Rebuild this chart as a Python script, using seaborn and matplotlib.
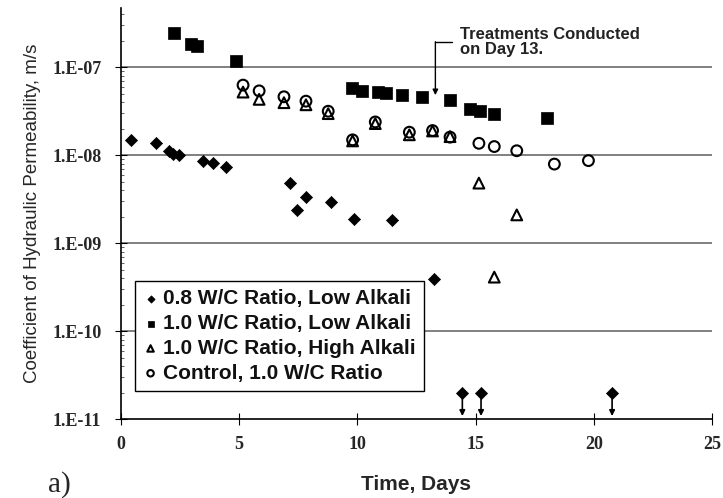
import numpy as np
import pandas as pd
import matplotlib
matplotlib.use("Agg")
import matplotlib.pyplot as plt
import seaborn as sns

# ---- data ----
d08_days = [0.45, 1.48, 2.04, 2.21, 2.45, 3.48, 3.88, 4.47, 7.15, 7.47, 7.85, 8.87, 9.87, 11.45, 13.24]
d08_k = [1.50e-8, 1.36e-8, 1.10e-8, 1.03e-8, 0.99e-8, 8.65e-9, 8.1e-9, 7.26e-9, 4.78e-9, 2.37e-9,
         3.37e-9, 2.93e-9, 1.87e-9, 1.84e-9, 3.86e-10]
d08_cens_days = [14.44, 15.23, 20.77]
d08_cens_k = [2.0e-11, 2.0e-11, 2.0e-11]

sq_days = [2.24, 2.99, 3.23, 4.86, 9.79, 10.21, 10.86, 11.2, 11.87, 12.75, 13.92, 14.76, 15.19, 15.79, 18.0]
sq_k = [2.46e-7, 1.82e-7, 1.73e-7, 1.18e-7, 5.81e-8, 5.42e-8, 5.24e-8, 5.06e-8, 4.84e-8, 4.59e-8,
        4.28e-8, 3.38e-8, 3.17e-8, 2.91e-8, 2.64e-8]

tri_days = [5.17, 5.85, 6.9, 7.83, 8.77, 9.8, 10.76, 12.2, 13.18, 13.92, 15.14, 15.79, 16.74]
tri_k = [5.2e-8, 4.3e-8, 3.94e-8, 3.73e-8, 2.96e-8, 1.45e-8, 2.28e-8, 1.70e-8, 1.88e-8, 1.62e-8,
         4.8e-9, 4.1e-10, 2.09e-9]

ctl_days = [5.17, 5.85, 6.9, 7.83, 8.77, 9.8, 10.76, 12.2, 13.18, 13.92, 15.14, 15.79, 16.74, 18.33, 19.77]
ctl_k = [6.24e-8, 5.37e-8, 4.6e-8, 4.1e-8, 3.15e-8, 1.49e-8, 2.38e-8, 1.82e-8, 1.9e-8, 1.6e-8,
         1.36e-8, 1.25e-8, 1.12e-8, 7.9e-9, 8.65e-9]

labels = ["0.8 W/C Ratio, Low Alkali", "1.0 W/C Ratio, Low Alkali",
          "1.0 W/C Ratio, High Alkali", "Control, 1.0 W/C Ratio"]
y_ticks = [1e-11, 1e-10, 1e-9, 1e-8, 1e-7]
y_ticklabels = ["1.E-11", "1.E-10", "1.E-09", "1.E-08", "1.E-07"]
x_ticks = [0, 5, 10, 15, 20, 25]

sns.set_theme(style="white")
plt.rcParams['font.family'] = ['Liberation Sans', 'DejaVu Sans']

fig = plt.figure(figsize=(7.23, 4.98), dpi=100)
ax = fig.add_axes([0.167, 0.1586, 0.818, 0.8254])

df08 = pd.DataFrame({"day": d08_days, "k": d08_k})
dfc = pd.DataFrame({"day": d08_cens_days, "k": d08_cens_k})
dfs = pd.DataFrame({"day": sq_days, "k": sq_k})
dft = pd.DataFrame({"day": tri_days, "k": tri_k})
dfo = pd.DataFrame({"day": ctl_days, "k": ctl_k})

ax.set_yscale("log")
for yv in y_ticks[1:]:
    ax.axhline(yv, color="#808080", lw=1.4, zorder=0)

sns.scatterplot(data=df08, x="day", y="k", marker="D", s=38, color="black",
                edgecolor="black", linewidth=0.5, ax=ax, label=labels[0], zorder=3)
sns.scatterplot(data=dfc, x="day", y="k", marker="D", s=38, color="black",
                edgecolor="black", linewidth=0.5, ax=ax, legend=False, zorder=3)
sns.scatterplot(data=dfs, x="day", y="k", marker="s", s=70, color="black",
                edgecolor="black", linewidth=0.5, ax=ax, label=labels[1], zorder=3)
sns.scatterplot(data=dft, x="day", y="k", marker="^", s=60, facecolor="none",
                edgecolor="black", linewidth=1.5, ax=ax, label=labels[2], zorder=4)
sns.scatterplot(data=dfo, x="day", y="k", marker="o", s=60, facecolor="none",
                edgecolor="black", linewidth=1.5, ax=ax, label=labels[3], zorder=4)

# censored arrows
for xd in d08_cens_days:
    ax.annotate("", xy=(xd, 1.08e-11), xytext=(xd, 1.75e-11),
                arrowprops=dict(arrowstyle="-|>", color="black", lw=1.2,
                                mutation_scale=8, shrinkA=0, shrinkB=0), zorder=3)

# treatment annotation
ax.plot([13.3, 13.99], [1.94e-7, 1.94e-7], color="black", lw=1)
ax.annotate("", xy=(13.3, 4.8e-8), xytext=(13.3, 1.94e-7),
            arrowprops=dict(arrowstyle="-|>", color="black", lw=1,
                            mutation_scale=8, shrinkA=0, shrinkB=0))
ax.text(14.34, 1.30e-7, "Treatments Conducted\non Day 13.", fontsize=12,
        fontweight="bold", ha="left", va="bottom", linespacing=1.0, color="#222222")

ax.set_xlim(0, 25)
ax.set_ylim(1e-11, 4.7e-7)
ax.set_xticks(x_ticks)
ax.set_xticklabels([str(v) for v in x_ticks], family="Liberation Serif",
                   fontweight="bold", fontsize=13)
ax.set_yticks(y_ticks)
ax.set_yticklabels(y_ticklabels, family="Liberation Serif", fontweight="bold", fontsize=13)
ax.tick_params(axis="both", which="major", direction="inout", length=8, width=0.8,
               color="black", left=True, bottom=True)
ax.tick_params(axis="y", which="major", pad=10)
ax.tick_params(axis="x", which="major", pad=8)
ax.tick_params(axis="y", which="minor", direction="in", length=2, width=0.5, left=True)

for s in ["top", "right"]:
    ax.spines[s].set_visible(False)
for s in ["left", "bottom"]:
    ax.spines[s].set_color("black")
    ax.spines[s].set_linewidth(1.2)

ax.set_xlabel("Time, Days", fontsize=15, fontweight="bold", labelpad=16)
ax.set_ylabel("Coefficient of Hydraulic Permeability, m/s", fontsize=13.5, labelpad=8)

leg = ax.legend(loc="lower left", bbox_to_anchor=(0.024, 0.068), frameon=True,
                fancybox=False, edgecolor="black", framealpha=1,
                prop={"weight": "bold", "size": 15}, handletextpad=0.25,
                borderpad=0.4, labelspacing=0.28, handlelength=0.7, markerscale=0.6,
                borderaxespad=0)
leg.get_frame().set_linewidth(1.0)
for t in leg.get_texts():
    t.set_color("#111111")

fig.text(0.066, 0.0, "a)", family="Liberation Serif", fontsize=21, ha="left", va="bottom")

fig.savefig("out.png", dpi=100)
